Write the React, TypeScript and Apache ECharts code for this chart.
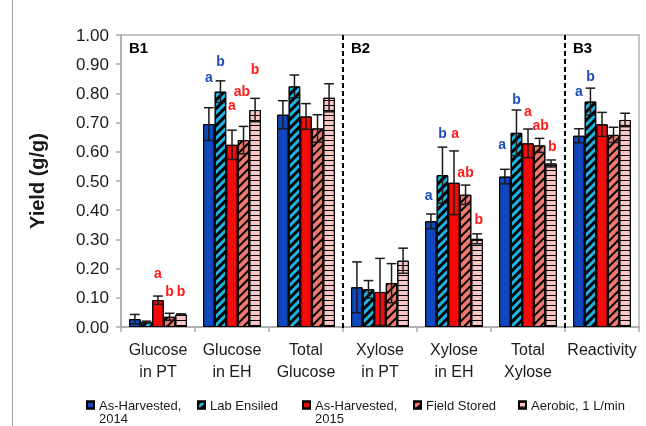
import React, { useEffect, useRef } from "react";
import * as echarts from "echarts";

const categories = ["Glucose\nin PT", "Glucose\nin EH", "Total\nGlucose", "Xylose\nin PT", "Xylose\nin EH", "Total\nXylose", "Reactivity"];
const seriesNames = ["As-Harvested, 2014", "Lab Ensiled", "As-Harvested, 2015", "Field Stored", "Aerobic, 1 L/min"];

const asHarvested2014 = [0.027, 0.695, 0.727, 0.136, 0.362, 0.515, 0.655];
const labEnsiled = [0.017, 0.806, 0.824, 0.129, 0.52, 0.665, 0.772];
const asHarvested2015 = [0.092, 0.624, 0.721, 0.12, 0.494, 0.629, 0.694];
const fieldStored = [0.035, 0.64, 0.68, 0.15, 0.453, 0.622, 0.658];
const aerobic = [0.043, 0.743, 0.785, 0.227, 0.302, 0.56, 0.709];

const err2014 = [0.016, 0.056, 0.048, 0.087, 0.025, 0.025, 0.024];
const errLab = [0.003, 0.037, 0.039, 0.03, 0.096, 0.078, 0.046];
const err2015 = [0.014, 0.05, 0.044, 0.115, 0.109, 0.049, 0.041];
const errField = [0.012, 0.047, 0.047, 0.067, 0.033, 0.024, 0.026];
const errAerobic = [0.002, 0.04, 0.048, 0.043, 0.017, 0.012, 0.023];

// [category index, bar slot, y value, letter, colour key]
const letters: [number, number, number, string, string][] = [
  [0, 2, 0.185, "a", "r"], [0, 3, 0.123, "b", "r"], [0, 4, 0.123, "b", "r"],
  [1, 0, 0.857, "a", "b"], [1, 1, 0.911, "b", "b"], [1, 2, 0.76, "a", "r"], [1, 2.85, 0.808, "ab", "r"], [1, 4, 0.883, "b", "r"],
  [4, -0.2, 0.452, "a", "b"], [4, 1, 0.664, "b", "b"], [4, 2.1, 0.664, "a", "r"], [4, 3, 0.531, "ab", "r"], [4, 4.15, 0.37, "b", "r"],
  [5, -0.25, 0.627, "a", "b"], [5, 1, 0.781, "b", "b"], [5, 2, 0.74, "a", "r"], [5, 3.1, 0.692, "ab", "r"], [5, 4.1, 0.62, "b", "r"],
  [6, 0, 0.808, "a", "b"], [6, 1, 0.86, "b", "b"],
];

const panelStarts = [0, 3, 6];
const panelLabels = ["B1", "B2", "B3"];
const dividers = [3, 6];
const yTicks = [0, 1, 0.1];

const values = [asHarvested2014, labEnsiled, asHarvested2015, fieldStored, aerobic];
const errors = [err2014, errLab, err2015, errField, errAerobic];

const FONT = "'Liberation Sans', Arial, sans-serif";
const GAP = 0.22;
const colors = ["#0F47BE", "#20B4E6", "#F50A0A", "#F0786E", "#F8C6C4"];
const decals: any[] = [
  { symbol: "none" },
  { symbol: "rect", symbolSize: 1, color: "#000", dashArrayX: [1, 0], dashArrayY: [2.4, 2.8], rotation: -Math.PI / 4 },
  { symbol: "none" },
  { symbol: "rect", symbolSize: 1, color: "#000", dashArrayX: [1, 0], dashArrayY: [1.9, 3.3], rotation: -Math.PI / 4 },
  { symbol: "rect", symbolSize: 1, color: "#000", dashArrayX: [1, 0], dashArrayY: [1, 3.3], rotation: 0 },
];
const letterColor: Record<string, string> = { b: "#1F4DB8", r: "#FF1A1A" };

export default function App() {
  const ref = useRef<HTMLDivElement>(null);
  useEffect(() => {
    if (!ref.current) return;
    const chart = echarts.init(ref.current, null, { renderer: "svg" });

    const barSeries = seriesNames.map((name, i) => ({
      name,
      type: "bar",
      data: values[i],
      barGap: "0%",
      barCategoryGap: GAP * 100 + "%",
      itemStyle: { color: colors[i], borderColor: "#000", borderWidth: 1, decal: decals[i] },
      emphasis: { disabled: true },
    }));

    const errData: number[][] = [];
    values.forEach((arr, s) => arr.forEach((v, c) => errData.push([c, v, errors[s][c], s])));

    const slotX = (api: any, cat: number, v: number, slot: number) => {
      const band = api.size([1, 0])[0];
      const bw = (band * (1 - GAP)) / 5;
      return api.coord([cat, v])[0] + (slot - 2) * bw;
    };

    const LH = 13.5;
    const legendLefts = [86, 197, 302, 413, 518];
    const legends = seriesNames.map((name, i) => {
      const twoLine = name.indexOf(", 20") >= 0;
      return {
        left: legendLefts[i],
        top: twoLine ? 405 - 1.5 * LH : 405 - LH / 2,
        padding: 0,
        itemWidth: 7,
        itemHeight: 7,
        icon: "rect",
        selectedMode: false,
        formatter: (n: string) => (n.indexOf(", 20") >= 0 ? "\n" + n.replace(", 20", ",\n20") : n),
        textStyle: { fontSize: 13, lineHeight: LH, color: "#1a1a1a", fontFamily: FONT },
        data: [name],
      };
    });

    chart.setOption({
      animation: false,
      textStyle: { fontFamily: FONT },
      legend: legends,
      grid: { left: 121, right: 7, top: 35, bottom: 99, show: true, borderColor: "#b3b3b3", borderWidth: 1.5, backgroundColor: "transparent" },
      xAxis: {
        type: "category",
        data: categories,
        axisLine: { lineStyle: { color: "#aaaaaa", width: 1.5 } },
        axisTick: { show: true, length: 5, lineStyle: { color: "#aaaaaa", width: 1.5 } },
        axisLabel: { interval: 0, fontSize: 16, lineHeight: 22, color: "#1a1a1a", margin: 11, fontFamily: FONT },
      },
      yAxis: {
        type: "value",
        min: yTicks[0],
        max: yTicks[1],
        interval: yTicks[2],
        name: "Yield (g/g)",
        nameLocation: "middle",
        nameGap: 74,
        nameTextStyle: { fontSize: 20, fontWeight: "bold", color: "#1a1a1a", fontFamily: FONT },
        axisLine: { show: true, lineStyle: { color: "#aaaaaa", width: 1.5 } },
        axisTick: { show: true, length: 5, lineStyle: { color: "#aaaaaa", width: 1.5 } },
        splitLine: { show: false },
        axisLabel: { fontSize: 17, color: "#1a1a1a", margin: 12, fontFamily: FONT, formatter: (v: number) => v.toFixed(2) },
      },
      graphic: [
        { type: "line", shape: { x1: 12.5, y1: 0, x2: 12.5, y2: 426 }, style: { stroke: "#a0a0a0", lineWidth: 1 } },
      ],
      series: [
        ...barSeries,
        {
          type: "custom",
          name: "errors",
          data: errData,
          encode: { x: 0, y: 1 },
          z: 5,
          silent: true,
          renderItem: (params: any, api: any) => {
            const cat = api.value(0), v = api.value(1), e = api.value(2), s = api.value(3);
            const x = slotX(api, cat, v, s);
            const yt = api.coord([cat, v + e])[1];
            const yb = api.coord([cat, Math.max(0, v - e)])[1];
            const band = api.size([1, 0])[0];
            const cap = ((band * (1 - GAP)) / 5) * 0.42;
            const st = { stroke: "#1a1a1a", lineWidth: 1.5 };
            return {
              type: "group",
              children: [
                { type: "line", shape: { x1: x, y1: yt, x2: x, y2: yb }, style: st },
                { type: "line", shape: { x1: x - cap, y1: yt, x2: x + cap, y2: yt }, style: st },
                { type: "line", shape: { x1: x - cap, y1: yb, x2: x + cap, y2: yb }, style: st },
              ],
            };
          },
        },
        {
          type: "custom",
          name: "letters",
          data: letters.map((l) => [l[0], l[2], l[1]]),
          encode: { x: 0, y: 1 },
          z: 6,
          silent: true,
          renderItem: (params: any, api: any) => {
            const l = letters[params.dataIndex];
            const x = slotX(api, l[0], l[2], l[1]);
            const y = api.coord([l[0], l[2]])[1];
            return {
              type: "text",
              x,
              y,
              style: { text: l[3], fill: letterColor[l[4]], font: "bold 14px " + FONT, align: "center", verticalAlign: "middle" },
            };
          },
        },
        {
          type: "custom",
          name: "panels",
          data: panelStarts.map((p) => [p, 1]),
          encode: { x: 0, y: 1 },
          z: 6,
          silent: true,
          renderItem: (params: any, api: any) => {
            const i = params.dataIndex;
            const band = api.size([1, 0])[0];
            const pt = api.coord([panelStarts[i], 1]);
            const children: any[] = [
              {
                type: "text",
                x: pt[0] - band / 2 + 8,
                y: pt[1] + 12,
                style: { text: panelLabels[i], fill: "#000", font: "bold 15px " + FONT, align: "left", verticalAlign: "middle" },
              },
            ];
            if (i > 0) {
              const d = dividers[i - 1];
              const xb = api.coord([d, 0])[0] - band / 2;
              const y0 = api.coord([d, 0])[1];
              children.push({
                type: "line",
                shape: { x1: xb, y1: pt[1], x2: xb, y2: y0 + 4 },
                style: { stroke: "#000", lineWidth: 2, lineDash: [5, 3] },
              });
            }
            return { type: "group", children };
          },
        },
      ],
    });
    return () => chart.dispose();
  }, []);
  return <div ref={ref} style={{ position: "fixed", left: 0, top: 0, width: 646, height: 426 }} />;
}
